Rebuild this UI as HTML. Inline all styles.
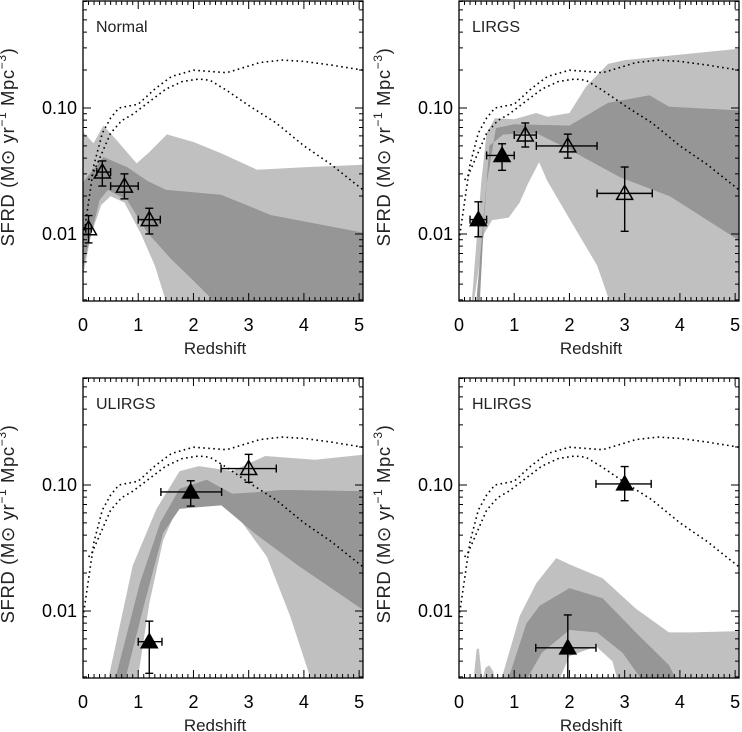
<!DOCTYPE html>
<html><head><meta charset="utf-8"><style>
html,body{margin:0;padding:0;background:#fff;}
svg{display:block;font-family:"Liberation Sans",sans-serif;}
</style></head><body>
<svg id="fig" width="742" height="732" viewBox="0 0 742 732" xmlns="http://www.w3.org/2000/svg"></svg>
<script>
// ---- shared dotted model curves (z, log10 SFRD) ----
const dotUpperZ=[0,0.1,0.2,0.35,0.5,0.65,1.0,1.3,1.6,2.0,2.3,2.6,2.9,3.2,3.6,4.0,4.5,5.07];
const dotUpperLog=[-2.05,-1.75,-1.45,-1.2,-1.08,-1.0,-0.97,-0.85,-0.75,-0.70,-0.71,-0.72,-0.68,-0.64,-0.62,-0.63,-0.66,-0.70];
const dotLowerZ=[0.1,0.15,0.3,0.5,0.7,0.9,1.2,1.5,1.8,2.1,2.3,2.6,3.0,3.5,4.0,4.5,5.07];
const dotLowerLog=[-1.57,-1.55,-1.4,-1.2,-1.1,-1.05,-0.95,-0.85,-0.79,-0.77,-0.78,-0.86,-0.98,-1.12,-1.3,-1.45,-1.65];

// ---- Normal ----
const nLightUpZ=[0,0.19,0.37,0.6,0.97,1.2,1.52,2.0,2.5,3.15,4,5.07];
const nLightUpLog=[-1.19,-1.28,-1.14,-1.25,-1.44,-1.35,-1.21,-1.27,-1.36,-1.49,-1.47,-1.45];
const nLightLoZ=[0,0.15,0.33,0.5,0.75,1.05,1.3,1.5,1.55,5.07];
const nLightLoLog=[-2.33,-2.0,-1.77,-1.7,-1.75,-2.0,-2.25,-2.53,-2.6,-2.6];
const nDarkUpZ=[0,0.37,0.8,1.17,1.5,2.5,3.4,5.07];
const nDarkUpLog=[-1.59,-1.39,-1.47,-1.58,-1.65,-1.69,-1.85,-1.99];
const nDarkLoZ=[0,0.3,0.45,0.8,1.17,1.6,2.0,2.3,2.45,5.07];
const nDarkLoLog=[-2.26,-1.73,-1.65,-1.73,-1.99,-2.2,-2.37,-2.5,-2.6,-2.6];
const nPtZ=[0.1,0.35,0.75,1.2], nPtZlo=[0.05,0.25,0.5,1.0], nPtZhi=[0.15,0.5,1.0,1.4];
const nPtV=[0.011,0.031,0.024,0.013], nPtVlo=[0.0085,0.024,0.019,0.010], nPtVhi=[0.014,0.038,0.030,0.016];
const nPtFilled=[false,false,false,false];

// ---- LIRGS ----
const lLightUpZ=[0.22,0.4,0.5,0.65,1.0,1.4,1.6,2.0,2.3,2.7,3.0,5.07];
const lLightUpLog=[-2.6,-1.6,-1.2,-1.08,-1.09,-1.04,-1.07,-1.04,-0.83,-0.65,-0.62,-0.53];
const lLightLoZ=[0.25,0.45,0.6,0.9,1.1,1.25,1.45,1.6,2.0,2.5,2.78,5.07];
const lLightLoLog=[-2.6,-2.0,-1.89,-1.87,-1.75,-1.6,-1.43,-1.58,-1.88,-2.25,-2.6,-2.6];
const lDarkUpZ=[0.3,0.5,0.67,1.0,2.0,2.7,3.45,3.8,5.07];
const lDarkUpLog=[-2.6,-1.6,-1.16,-1.13,-1.14,-0.96,-0.9,-0.99,-1.02];
const lDarkLoZ=[0.37,0.45,0.55,0.8,1.2,1.41,2.0,2.92,3.82,5.07];
const lDarkLoLog=[-2.6,-1.9,-1.3,-1.21,-1.2,-1.2,-1.33,-1.55,-1.70,-2.05];
const lPtZ=[0.35,0.78,1.2,1.97,3.0], lPtZlo=[0.2,0.5,1.0,1.4,2.5], lPtZhi=[0.5,1.0,1.4,2.5,3.5];
const lPtV=[0.013,0.042,0.061,0.05,0.021], lPtVlo=[0.0095,0.032,0.049,0.04,0.0105], lPtVhi=[0.018,0.052,0.076,0.062,0.034];
const lPtFilled=[true,true,false,false,false];

// ---- ULIRGS ----
const uLightUpZ=[0.43,0.9,1.33,1.75,2.1,2.7,3.3,4.2,5.07];
const uLightUpLog=[-2.6,-1.64,-1.19,-0.89,-0.85,-0.89,-0.77,-0.80,-0.76];
const uLightLoZ=[0.97,1.2,1.45,1.7,1.9,2.6,2.85,3.33,3.75,4.17,5.07];
const uLightLoLog=[-2.6,-1.94,-1.44,-1.19,-1.18,-1.16,-1.28,-1.57,-2.04,-2.6,-2.6];
const uDarkUpZ=[0.55,1.03,1.4,1.75,2.24,2.7,3.1,3.6,5.07];
const uDarkUpLog=[-2.6,-1.78,-1.30,-1.03,-0.96,-1.07,-1.06,-1.04,-1.05];
const uDarkLoZ=[0.73,1.1,1.45,1.75,2.5,3.1,3.9,5.07];
const uDarkLoLog=[-2.6,-1.96,-1.38,-1.19,-1.16,-1.38,-1.64,-1.99];
const uPtZ=[1.2,1.95,3.0], uPtZlo=[1.0,1.41,2.5], uPtZhi=[1.43,2.51,3.5];
const uPtV=[0.0057,0.088,0.135], uPtVlo=[0.0032,0.068,0.105], uPtVhi=[0.0083,0.108,0.175];
const uPtFilled=[true,true,false];

// ---- HLIRGS ----
const hLightUpZ=[0.25,0.32,0.36,0.42,0.48,0.55,0.62,0.68,0.73,1.1,1.4,1.76,2.0,2.6,3.2,3.8,4.2,5.07];
const hLightUpLog=[-2.6,-2.3,-2.3,-2.55,-2.45,-2.43,-2.48,-2.6,-2.6,-2.04,-1.78,-1.58,-1.63,-1.74,-1.98,-2.17,-2.17,-2.16];
const hLightLoZ=[0,1.76,2.0,2.48,2.78,2.9,5.07];
const hLightLoLog=[-2.6,-2.6,-2.36,-2.28,-2.4,-2.6,-2.6];
const hDarkUpZ=[0.85,1.22,1.46,2.0,2.6,3.2,3.8,4.0];
const hDarkUpLog=[-2.6,-2.1,-1.96,-1.82,-1.90,-2.17,-2.43,-2.6];
const hDarkLoZ=[1.15,1.5,2.0,2.5,2.96,3.4];
const hDarkLoLog=[-2.6,-2.33,-2.15,-2.17,-2.33,-2.6];
const hPtZ=[1.97,3.0], hPtZlo=[1.39,2.48], hPtZhi=[2.48,3.48];
const hPtV=[0.0051,0.102], hPtVlo=[0.0025,0.075], hPtVhi=[0.0093,0.14];
const hPtFilled=[true,true];

const xTicks=[0,1,2,3,4,5];
const yTickVals=[0.01,0.10];
const yTickLabels=["0.01","0.10"];

const NS="http://www.w3.org/2000/svg";
const svg=document.getElementById('fig');
const W=280,H=300,XMAX=5.07,LOGTOP=-0.151,DEC=126;
const LIGHT="#c0c0c0",DARK="#969696";
function mk(tag,attrs,parent){const e=document.createElementNS(NS,tag);for(const k in attrs)e.setAttribute(k,attrs[k]);(parent||svg).appendChild(e);return e;}

const panels=[
 {name:"normal",label:"Normal",x0:83,y0:1,lu:[nLightUpZ,nLightUpLog],ll:[nLightLoZ,nLightLoLog],du:[nDarkUpZ,nDarkUpLog],dl:[nDarkLoZ,nDarkLoLog],pz:nPtZ,pzl:nPtZlo,pzh:nPtZhi,pv:nPtV,pvl:nPtVlo,pvh:nPtVhi,pf:nPtFilled},
 {name:"lirgs",label:"LIRGS",x0:459,y0:1,lu:[lLightUpZ,lLightUpLog],ll:[lLightLoZ,lLightLoLog],du:[lDarkUpZ,lDarkUpLog],dl:[lDarkLoZ,lDarkLoLog],pz:lPtZ,pzl:lPtZlo,pzh:lPtZhi,pv:lPtV,pvl:lPtVlo,pvh:lPtVhi,pf:lPtFilled},
 {name:"ulirgs",label:"ULIRGS",x0:83,y0:378,lu:[uLightUpZ,uLightUpLog],ll:[uLightLoZ,uLightLoLog],du:[uDarkUpZ,uDarkUpLog],dl:[uDarkLoZ,uDarkLoLog],pz:uPtZ,pzl:uPtZlo,pzh:uPtZhi,pv:uPtV,pvl:uPtVlo,pvh:uPtVhi,pf:uPtFilled},
 {name:"hlirgs",label:"HLIRGS",x0:459,y0:378,lu:[hLightUpZ,hLightUpLog],ll:[hLightLoZ,hLightLoLog],du:[hDarkUpZ,hDarkUpLog],dl:[hDarkLoZ,hDarkLoLog],pz:hPtZ,pzl:hPtZlo,pzh:hPtZhi,pv:hPtV,pvl:hPtVlo,pvh:hPtVhi,pf:hPtFilled}
];

panels.forEach((p,pi)=>{
 const xs=z=>p.x0+z*W/XMAX;
 const ys=l=>p.y0+(LOGTOP-l)*DEC;
 const yv=v=>ys(Math.log10(v));
 const g=mk('g',{});
 
 
 const cp=mk('clipPath',{id:'cp'+pi},g);
 mk('rect',{x:p.x0,y:p.y0,width:W,height:H},cp);
 const pg=mk('g',{'clip-path':'url(#cp'+pi+')'},g);
 function band(up,lo,fill,nm){
  let d='M'+up[0].map((z,i)=>xs(z).toFixed(1)+','+ys(up[1][i]).toFixed(1)).join('L');
  const lz=lo[0].slice().reverse(),ll=lo[1].slice().reverse();
  d+='L'+lz.map((z,i)=>xs(z).toFixed(1)+','+ys(ll[i]).toFixed(1)).join('L')+'Z';
  const e=mk('path',{d:d,fill:fill},pg);
  
  
 }
 band(p.lu,[[0,XMAX],[-2.7,-2.7]],LIGHT,'light-confidence-band');
 band(p.du,p.dl,DARK,'dark-confidence-band');
 band(p.ll,[[0,XMAX],[-2.7,-2.7]],'#ffffff','light-band-lower-edge');
 band(p.du,p.dl,DARK,'dark-confidence-band-top');
 function dotted(zs,ls,nm){
  const d='M'+zs.map((z,i)=>xs(z).toFixed(1)+','+ys(ls[i]).toFixed(1)).join('L');
  const e=mk('path',{d:d,fill:'none',stroke:'#000','stroke-width':1.6,'stroke-dasharray':'1.6 3.4'},pg);
  
  
 }
 dotted(dotUpperZ,dotUpperLog,'model-curve-total');
 dotted(dotLowerZ,dotLowerLog,'model-curve-lower');
 p.pz.forEach((z,i)=>{
  const cx=xs(z),cy=yv(p.pv[i]);
  const eg=mk('g',{stroke:'#000','stroke-width':1.4,fill:'none'},pg);
  
  
  const x1=xs(p.pzl[i]),x2=xs(p.pzh[i]),y1=yv(p.pvh[i]),y2=yv(p.pvl[i]);
  mk('line',{x1:x1,y1:cy,x2:x2,y2:cy},eg);
  mk('line',{x1:x1,y1:cy-4,x2:x1,y2:cy+4},eg);
  mk('line',{x1:x2,y1:cy-4,x2:x2,y2:cy+4},eg);
  mk('line',{x1:cx,y1:y1,x2:cx,y2:y2},eg);
  mk('line',{x1:cx-4,y1:y1,x2:cx+4,y2:y1},eg);
  mk('line',{x1:cx-4,y1:y2,x2:cx+4,y2:y2},eg);
  const t=mk('path',{d:`M${cx-8},${cy+6}L${cx+8},${cy+6}L${cx},${cy-8}Z`,fill:p.pf[i]?'#000':'none',stroke:'#000','stroke-width':1.5},pg);
  
  
 });
 const fr=mk('rect',{x:p.x0,y:p.y0,width:W,height:H,fill:'none',stroke:'#000','stroke-width':1.3},g);
 
 
 let d='';
 for(let k=0;k<=50;k++){const z=k/10;if(z>XMAX)break;const x=xs(z);const L=(k%10===0)?8:4;
  d+=`M${x},${p.y0+H}v${-L}M${x},${p.y0}v${L}`;}
 for(let e=-3;e<=0;e++)for(let m=1;m<=9;m++){const l=e+Math.log10(m);if(l<LOGTOP-H/DEC||l>LOGTOP)continue;const y=ys(l);const L=m===1?8:4;
  d+=`M${p.x0},${y}h${L}M${p.x0+W},${y}h${-L}`;}
 mk('path',{d:d,stroke:'#000','stroke-width':1,fill:'none'},g);
 xTicks.forEach(t=>{
  const e=mk('text',{x:xs(t),y:p.y0+H+30,'text-anchor':'middle','font-size':18},g);
  e.textContent=t;
  
  
 });
 yTickVals.forEach((v,i)=>{
  const e=mk('text',{x:p.x0-6,y:yv(v)+6,'text-anchor':'end','font-size':18},g);
  e.textContent=yTickLabels[i];
  
  
 });
 const xt=mk('text',{x:p.x0+W/2-8,y:p.y0+H+53,'text-anchor':'middle','font-size':17,fill:'#222'},g);
 xt.textContent='Redshift';
 
 
 const yt=mk('text',{transform:`translate(${p.x0-69},${p.y0+146}) rotate(-90)`,'text-anchor':'middle','font-size':18.5,'letter-spacing':'0.6',fill:'#222'},g);
 yt.innerHTML='SFRD  (M<tspan>⊙</tspan> yr<tspan dy="-8" font-size="12">−1</tspan><tspan dy="8">  Mpc</tspan><tspan dy="-8" font-size="12">−3</tspan><tspan dy="8">)</tspan>';
 
 
 const lb=mk('text',{x:p.x0+13,y:p.y0+31,'font-size':16,fill:'#222'},g);
 lb.textContent=p.label;
 
 
});
</script>
</body></html>
